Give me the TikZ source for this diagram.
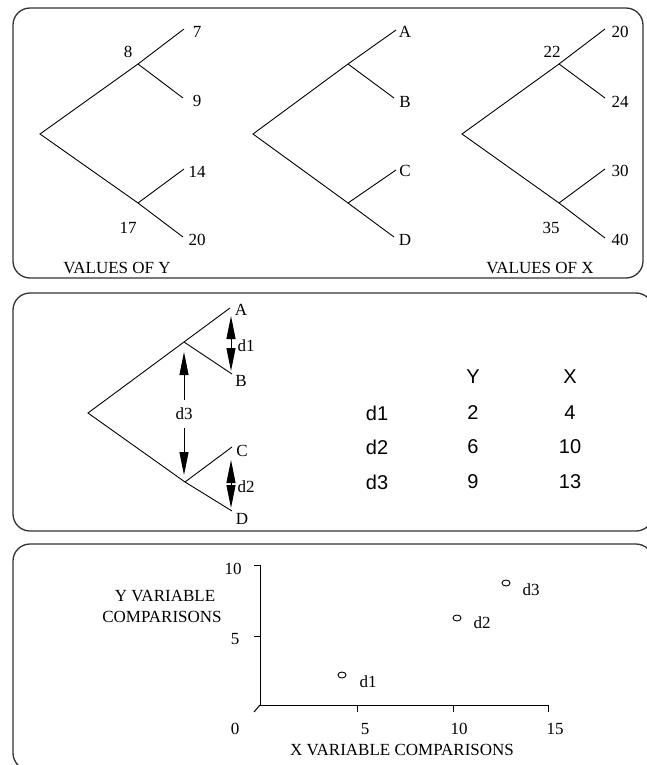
\documentclass[tikz,border=0pt]{standalone}
\usepackage{fontspec}
\setmainfont{Liberation Serif}
\newfontfamily\arialf{Liberation Sans}
\usetikzlibrary{arrows.meta,shapes.geometric}
\begin{document}
\begin{tikzpicture}[x=1pt,y=-1pt,
  panel/.style={draw=black!80, line width=1.3pt, rounded corners=17pt},
  br/.style={line width=0.9pt, black},
  lbl/.style={font=\fontsize{17}{19}\selectfont, inner sep=0pt},
  tbl/.style={font=\arialf\fontsize{20}{22}\selectfont, inner sep=0pt},
  darrow/.style={line width=1pt, {Triangle[length=23pt,width=9pt]}-{Triangle[length=23pt,width=9pt]}},
  axis/.style={line width=1pt},
  pt/.style={draw, line width=0.9pt, ellipse, minimum width=8pt, minimum height=6pt, inner sep=0pt}
]
\useasboundingbox (0,0) rectangle (646,765);
% panels
\draw[panel] (13,8) rectangle (643,278);
\draw[panel] (13,293) rectangle (653,531);
\draw[panel] (13,544) rectangle (653,770);

% ---------- tree 1 (values of Y)
\coordinate (r1) at (40,134);
\coordinate (u1) at (138,64);
\coordinate (l1) at (138,203);
\coordinate (e1a) at (184,29);
\coordinate (e1b) at (183,98);
\coordinate (e1c) at (184,169);
\coordinate (e1d) at (183,237);
\draw[br] (e1a) -- (u1) -- (r1) -- (l1) -- (e1d);
\draw[br] (u1) -- (e1b);
\draw[br] (l1) -- (e1c);
\node[lbl] (t1a) at (197,32) {7};
\node[lbl] (t1u) at (128,52) {8};
\node[lbl] (t1b) at (197,101) {9};
\node[lbl] (t1c) at (197,172) {14};
\node[lbl] (t1l) at (128,228) {17};
\node[lbl] (t1d) at (197,240) {20};
\node[lbl] (cap1) at (117,268) {VALUES OF Y};

% ---------- tree 2 (letters)
\coordinate (r2) at (253,134);
\coordinate (u2) at (348,64);
\coordinate (l2) at (348,203);
\coordinate (e2a) at (396,30);
\coordinate (e2b) at (394,98);
\coordinate (e2c) at (396,170);
\coordinate (e2d) at (394,237);
\draw[br] (e2a) -- (u2) -- (r2) -- (l2) -- (e2d);
\draw[br] (u2) -- (e2b);
\draw[br] (l2) -- (e2c);
\node[lbl] (t2a) at (405,32) {A};
\node[lbl] (t2b) at (405,102) {B};
\node[lbl] (t2c) at (405,171) {C};
\node[lbl] (t2d) at (405,240) {D};

% ---------- tree 3 (values of X)
\coordinate (r3) at (462,134);
\coordinate (u3) at (559,64);
\coordinate (l3) at (559,203);
\coordinate (e3a) at (605,29);
\coordinate (e3b) at (605,98);
\coordinate (e3c) at (605,169);
\coordinate (e3d) at (605,238);
\draw[br] (e3a) -- (u3) -- (r3) -- (l3) -- (e3d);
\draw[br] (u3) -- (e3b);
\draw[br] (l3) -- (e3c);
\node[lbl] (t3a) at (620,32) {20};
\node[lbl] (t3u) at (552,52) {22};
\node[lbl] (t3b) at (620,102) {24};
\node[lbl] (t3c) at (620,171) {30};
\node[lbl] (t3l) at (551,228) {35};
\node[lbl] (t3d) at (620,240) {40};
\node[lbl] (cap3) at (540,268) {VALUES OF X};

% ---------- panel 2 tree
\coordinate (r4) at (88,413);
\coordinate (u4) at (184,342);
\coordinate (l4) at (185,482);
\coordinate (e4a) at (230,308);
\coordinate (e4b) at (232,374);
\coordinate (e4c) at (232,447);
\coordinate (e4d) at (232,511);
\draw[br] (e4a) -- (u4) -- (r4) -- (l4) -- (e4d);
\draw[br] (u4) -- (e4b);
\draw[br] (l4) -- (e4c);
\node[lbl] (t4a) at (241,310) {A};
\node[lbl] (t4b) at (241,381) {B};
\node[lbl] (t4c) at (242,451) {C};
\node[lbl] (t4d) at (242,519) {D};

% arrows
\coordinate (d1t) at (231,316);
\coordinate (d1b) at (231,371);
\draw[darrow] (d1t) -- (d1b);
\node[lbl] (d1l) at (246,346) {d1};
\coordinate (d2t) at (231,460);
\coordinate (d2b) at (231,508);
\draw[darrow] (d2t) -- (d2b);
\node[lbl] (d2l) at (246,487) {d2};
\coordinate (d3t) at (184,352);
\coordinate (d3b) at (184,475);
\draw[darrow] (d3t) -- (d3b);
\node[lbl, fill=white, inner ysep=8pt, inner xsep=1pt] (d3l) at (184,414) {d3};

% table
\node[tbl] (hY) at (473,377) {Y};
\node[tbl] (hX) at (570,377) {X};
\node[tbl] (r1n) at (377,413) {d1};
\node[tbl] (r1y) at (473,413) {2};
\node[tbl] (r1x) at (570,413) {4};
\node[tbl] (r2n) at (377,447) {d2};
\node[tbl] (r2y) at (473,447) {6};
\node[tbl] (r2x) at (570,447) {10};
\node[tbl] (r3n) at (377,482) {d3};
\node[tbl] (r3y) at (473,482) {9};
\node[tbl] (r3x) at (570,482) {13};

% ---------- scatter plot
\coordinate (o) at (260,705);
\coordinate (ytop) at (260,565);
\coordinate (xend) at (548,705);
\draw[axis] (ytop) -- (o) -- (xend);
\draw[axis] (254,565) -- (ytop);
\draw[axis] (254,636) -- (260,636);
\draw[axis] (254,712) -- (o);
\draw[axis] (357,705) -- (357,712);
\draw[axis] (453,705) -- (453,712);
\draw[axis] (548,705) -- (548,712);
\node[lbl] (y10) at (233,569) {10};
\node[lbl] (y5) at (235,639) {5};
\node[lbl] (y0) at (235,729) {0};
\node[lbl] (x5) at (365,729) {5};
\node[lbl] (x10) at (459,729) {10};
\node[lbl] (x15) at (555,729) {15};
\node[lbl] (ylab1) at (165,596) {Y VARIABLE};
\node[lbl] (ylab2) at (162,617) {COMPARISONS};
\node[lbl] (xlab) at (402,750) {X VARIABLE COMPARISONS};
\node[pt] (p1) at (342,675) {};
\node[pt] (p2) at (457,618) {};
\node[pt] (p3) at (506,583) {};
\node[lbl] (p1l) at (368,682) {d1};
\node[lbl] (p2l) at (482,623) {d2};
\node[lbl] (p3l) at (531,590) {d3};
\end{tikzpicture}
\end{document}
